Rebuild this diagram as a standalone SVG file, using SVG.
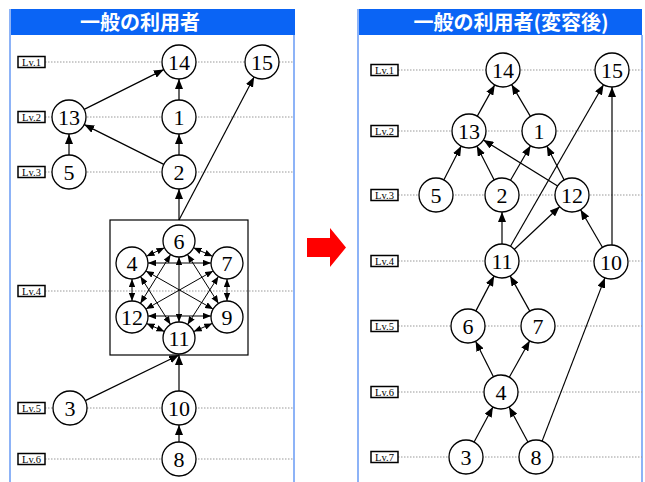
<svg xmlns="http://www.w3.org/2000/svg" width="645" height="482" viewBox="0 0 645 482">
<style>
.hdr{fill:#0a64f5}
.title{font-family:"Noto Sans CJK JP","Noto Sans",sans-serif;font-weight:bold;font-size:20px;fill:#fff;text-anchor:middle}
.frame{stroke:#8db3f7;stroke-width:2;fill:none}
.lvl{stroke:#999;stroke-width:1;stroke-dasharray:1.5 1.5;fill:none}
.lvbox{fill:#fff;stroke:#000;stroke-width:1.5}
.lvtxt{font-family:"Liberation Serif",serif;font-size:10.5px;fill:#000;text-anchor:middle}
.node circle{fill:#fff;stroke:#000;stroke-width:1.3}
.node text{font-family:"Liberation Serif","DejaVu Serif",serif;font-size:22px;fill:#000;text-anchor:middle;dominant-baseline:central}
.e{stroke:#000;stroke-width:1.2;fill:none;marker-end:url(#ah)}
.d{stroke:#000;stroke-width:1;fill:none;marker-end:url(#sh);marker-start:url(#sh)}
.box{fill:none;stroke:#000;stroke-width:1.2}
</style>
<defs>
<marker id="ah" viewBox="0 0 10 8" refX="10" refY="4" markerWidth="10" markerHeight="8" markerUnits="userSpaceOnUse" orient="auto"><path d="M0,0 L10,4 L0,8 z" fill="#000"/></marker>
<marker id="sh" viewBox="0 0 10 8" refX="10" refY="4" markerWidth="8" markerHeight="6.5" markerUnits="userSpaceOnUse" orient="auto-start-reverse"><path d="M0,0 L10,4 L0,8 z" fill="#000"/></marker>
</defs>
<rect width="645" height="482" fill="#fff"/>

<!-- Left panel -->
<g id="panel-left">
<rect class="hdr" x="10" y="9" width="285" height="26"/>
<text class="title" x="140" y="29.5">一般の利用者</text>
<line class="frame" x1="10" y1="9" x2="10" y2="482"/>
<line class="frame" x1="294" y1="35" x2="294" y2="482"/>
<line class="lvl" x1="45" y1="62" x2="294" y2="62"/>
<line class="lvl" x1="45" y1="117" x2="294" y2="117"/>
<line class="lvl" x1="45" y1="172" x2="294" y2="172"/>
<line class="lvl" x1="45" y1="291" x2="294" y2="291"/>
<line class="lvl" x1="45" y1="408" x2="294" y2="408"/>
<line class="lvl" x1="45" y1="459" x2="294" y2="459"/>
<g id="lv-l1"><rect class="lvbox" x="18" y="56.5" width="27" height="11"/><text class="lvtxt" x="31.5" y="65.8">Lv.1</text></g>
<g id="lv-l2"><rect class="lvbox" x="18" y="111.5" width="27" height="11"/><text class="lvtxt" x="31.5" y="120.8">Lv.2</text></g>
<g id="lv-l3"><rect class="lvbox" x="18" y="166.5" width="27" height="11"/><text class="lvtxt" x="31.5" y="175.8">Lv.3</text></g>
<g id="lv-l4"><rect class="lvbox" x="18" y="285.5" width="27" height="11"/><text class="lvtxt" x="31.5" y="294.8">Lv.4</text></g>
<g id="lv-l5"><rect class="lvbox" x="18" y="402.5" width="27" height="11"/><text class="lvtxt" x="31.5" y="411.8">Lv.5</text></g>
<g id="lv-l6"><rect class="lvbox" x="18" y="453.5" width="27" height="11"/><text class="lvtxt" x="31.5" y="462.8">Lv.6</text></g>
<rect id="group-box" class="box" x="110" y="220" width="138" height="135" fill="#fff"/>
</g>

<g id="edges-left">
<line class="e" x1="84.2" y1="109.4" x2="163.8" y2="69.6"/>
<line class="e" x1="179" y1="100" x2="179" y2="79"/>
<line class="e" x1="179" y1="155" x2="179" y2="134"/>
<line class="e" x1="163.8" y1="164.4" x2="84.2" y2="124.6"/>
<line class="e" x1="69" y1="155" x2="69" y2="134"/>
<line class="e" x1="179" y1="220" x2="179" y2="189"/>
<line class="e" x1="179" y1="220" x2="254.1" y2="77"/>
<line class="e" x1="85.3" y1="400.6" x2="179" y2="355"/>
<line class="e" x1="179" y1="391" x2="179" y2="355"/>
<line class="e" x1="179" y1="442" x2="179" y2="425"/>
<!-- inside box: all pairs, double-headed -->
<line class="d" x1="164.5" y1="247.8" x2="146.5" y2="256.2"/>
<line class="d" x1="193.5" y1="247.7" x2="212.5" y2="256.3"/>
<line class="d" x1="227" y1="279" x2="227" y2="301"/>
<line class="d" x1="132" y1="279" x2="132" y2="301"/>
<line class="d" x1="146.6" y1="323.5" x2="164.4" y2="331.5"/>
<line class="d" x1="212.3" y1="323.4" x2="193.7" y2="331.6"/>
<line class="d" x1="148" y1="263" x2="211" y2="263"/>
<line class="d" x1="148" y1="316" x2="211" y2="316"/>
<line class="d" x1="179" y1="257" x2="179" y2="322"/>
<line class="d" x1="145.9" y1="270.9" x2="213.1" y2="309.1"/>
<line class="d" x1="213.1" y1="270.9" x2="145.9" y2="309.1"/>
<line class="d" x1="170.6" y1="254.6" x2="140.4" y2="303.4"/>
<line class="d" x1="187.5" y1="254.5" x2="218.5" y2="303.5"/>
<line class="d" x1="140.5" y1="276.6" x2="170.5" y2="324.4"/>
<line class="d" x1="218.4" y1="276.5" x2="187.6" y2="324.5"/>
</g>

<g id="L14" class="node"><circle cx="179" cy="62" r="17"/><text x="179" y="62">14</text></g>
<g id="L15" class="node"><circle cx="262" cy="62" r="17"/><text x="262" y="62">15</text></g>
<g id="L13" class="node"><circle cx="69" cy="117" r="17"/><text x="69" y="117">13</text></g>
<g id="L1" class="node"><circle cx="179" cy="117" r="17"/><text x="179" y="117">1</text></g>
<g id="L5" class="node"><circle cx="69" cy="172" r="17"/><text x="69" y="172">5</text></g>
<g id="L2" class="node"><circle cx="179" cy="172" r="17"/><text x="179" y="172">2</text></g>
<g id="L6" class="node"><circle cx="179" cy="241" r="16"/><text x="179" y="241">6</text></g>
<g id="L4" class="node"><circle cx="132" cy="263" r="16"/><text x="132" y="263">4</text></g>
<g id="L7" class="node"><circle cx="227" cy="263" r="16"/><text x="227" y="263">7</text></g>
<g id="L12" class="node"><circle cx="132" cy="317" r="16"/><text x="132" y="317">12</text></g>
<g id="L9" class="node"><circle cx="227" cy="317" r="16"/><text x="227" y="317">9</text></g>
<g id="L11" class="node"><circle cx="179" cy="338" r="16"/><text x="179" y="338">11</text></g>
<g id="L3" class="node"><circle cx="70" cy="408" r="17"/><text x="70" y="408">3</text></g>
<g id="L10" class="node"><circle cx="179" cy="408" r="17"/><text x="179" y="408">10</text></g>
<g id="L8" class="node"><circle cx="179" cy="459" r="17"/><text x="179" y="459">8</text></g>

<!-- Red arrow -->
<polygon id="transition-arrow" points="307,238 330,238 330,228 346,247.5 330,267 330,257 307,257" fill="#ff0000"/>

<!-- Right panel -->
<g id="panel-right">
<rect class="hdr" x="358" y="9" width="284" height="26"/>
<text class="title" x="511" y="29.5">一般の利用者(変容後)</text>
<line class="frame" x1="358" y1="9" x2="358" y2="482"/>
<line class="frame" x1="642" y1="35" x2="642" y2="482"/>
<line class="lvl" x1="398" y1="70" x2="642" y2="70"/>
<line class="lvl" x1="398" y1="131" x2="642" y2="131"/>
<line class="lvl" x1="398" y1="195" x2="642" y2="195"/>
<line class="lvl" x1="398" y1="261" x2="642" y2="261"/>
<line class="lvl" x1="398" y1="326" x2="642" y2="326"/>
<line class="lvl" x1="398" y1="392" x2="642" y2="392"/>
<line class="lvl" x1="398" y1="457" x2="642" y2="457"/>
<g id="lv-r1"><rect class="lvbox" x="371" y="64.5" width="27" height="11"/><text class="lvtxt" x="384.5" y="73.8">Lv.1</text></g>
<g id="lv-r2"><rect class="lvbox" x="371" y="125.5" width="27" height="11"/><text class="lvtxt" x="384.5" y="134.8">Lv.2</text></g>
<g id="lv-r3"><rect class="lvbox" x="371" y="189.5" width="27" height="11"/><text class="lvtxt" x="384.5" y="198.8">Lv.3</text></g>
<g id="lv-r4"><rect class="lvbox" x="371" y="255.5" width="27" height="11"/><text class="lvtxt" x="384.5" y="264.8">Lv.4</text></g>
<g id="lv-r5"><rect class="lvbox" x="371" y="320.5" width="27" height="11"/><text class="lvtxt" x="384.5" y="329.8">Lv.5</text></g>
<g id="lv-r6"><rect class="lvbox" x="371" y="386.5" width="27" height="11"/><text class="lvtxt" x="384.5" y="395.8">Lv.6</text></g>
<g id="lv-r7"><rect class="lvbox" x="371" y="451.5" width="27" height="11"/><text class="lvtxt" x="384.5" y="460.8">Lv.7</text></g>
</g>

<g id="edges-right">
<line class="e" x1="477.3" y1="116.1" x2="494.7" y2="84.9"/>
<line class="e" x1="530.4" y1="116.4" x2="511.6" y2="84.6"/>
<line class="e" x1="510.5" y1="246.3" x2="603.5" y2="84.7"/>
<line class="e" x1="612" y1="245" x2="612" y2="87"/>
<line class="e" x1="443.8" y1="179.9" x2="461.2" y2="146.1"/>
<line class="e" x1="494.2" y1="179.9" x2="476.8" y2="146.1"/>
<line class="e" x1="557.6" y1="186" x2="483.4" y2="140"/>
<line class="e" x1="510.5" y1="180.3" x2="530.5" y2="145.7"/>
<line class="e" x1="564.2" y1="179.9" x2="546.8" y2="146.1"/>
<line class="e" x1="502" y1="244" x2="502" y2="212"/>
<line class="e" x1="514.4" y1="249.3" x2="559.6" y2="206.7"/>
<line class="e" x1="602.4" y1="247.3" x2="580.6" y2="209.7"/>
<line class="e" x1="475.9" y1="310.9" x2="494.1" y2="276.1"/>
<line class="e" x1="529.8" y1="311.1" x2="510.2" y2="275.9"/>
<line class="e" x1="493.4" y1="376.8" x2="475.6" y2="341.2"/>
<line class="e" x1="509.3" y1="377.2" x2="529.7" y2="340.8"/>
<line class="e" x1="474.1" y1="442" x2="492.9" y2="407"/>
<line class="e" x1="527.9" y1="442" x2="509.1" y2="407"/>
<line class="e" x1="542.1" y1="441.1" x2="604.9" y2="277.9"/>
</g>

<g id="R14" class="node"><circle cx="503" cy="70" r="17"/><text x="503" y="70">14</text></g>
<g id="R15" class="node"><circle cx="612" cy="70" r="17"/><text x="612" y="70">15</text></g>
<g id="R13" class="node"><circle cx="469" cy="131" r="17"/><text x="469" y="131">13</text></g>
<g id="R1" class="node"><circle cx="539" cy="131" r="17"/><text x="539" y="131">1</text></g>
<g id="R5" class="node"><circle cx="436" cy="195" r="17"/><text x="436" y="195">5</text></g>
<g id="R2" class="node"><circle cx="502" cy="195" r="17"/><text x="502" y="195">2</text></g>
<g id="R12" class="node"><circle cx="572" cy="195" r="17"/><text x="572" y="195">12</text></g>
<g id="R11" class="node"><circle cx="502" cy="261" r="17"/><text x="502" y="261">11</text></g>
<g id="R10" class="node"><circle cx="611" cy="262" r="17"/><text x="611" y="262">10</text></g>
<g id="R6" class="node"><circle cx="468" cy="326" r="17"/><text x="468" y="326">6</text></g>
<g id="R7" class="node"><circle cx="538" cy="326" r="17"/><text x="538" y="326">7</text></g>
<g id="R4" class="node"><circle cx="501" cy="392" r="17"/><text x="501" y="392">4</text></g>
<g id="R3" class="node"><circle cx="466" cy="457" r="17"/><text x="466" y="457">3</text></g>
<g id="R8" class="node"><circle cx="536" cy="457" r="17"/><text x="536" y="457">8</text></g>
</svg>
